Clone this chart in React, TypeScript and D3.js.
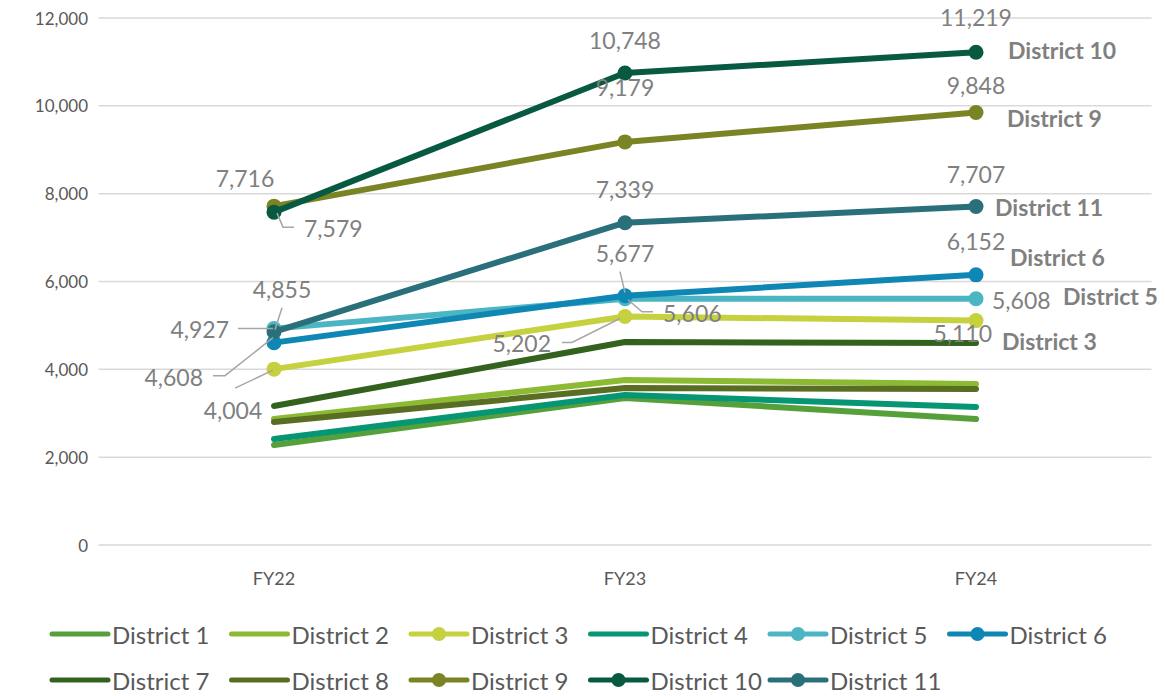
import React from 'react';
import * as d3 from 'd3';

const years = ['FY22', 'FY23', 'FY24'];
const districts = ['District 1', 'District 2', 'District 3', 'District 4', 'District 5', 'District 6',
    'District 7', 'District 8', 'District 9', 'District 10', 'District 11'];
const district1 = [2277, 3347, 2869];
const district2 = [2869, 3757, 3666];
const district3 = [4004, 5202, 5110];
const district4 = [2413, 3415, 3142];
const district5 = [4927, 5606, 5608];
const district6 = [4608, 5677, 6152];
const district7 = [3165, 4622, 4600];
const district8 = [2800, 3575, 3552];
const district9 = [7716, 9179, 9848];
const district10 = [7579, 10748, 11219];
const district11 = [4855, 7339, 7707];
const yTicks = [0, 2000, 4000, 6000, 8000, 10000, 12000];

const colors = ['#55a03a', '#8cba33', '#c5d13f', '#079673', '#4bb5c4', '#0e87b4',
    '#33621f', '#5a6e23', '#7b8424', '#075a41', '#2a707a'];
const values = [district1, district2, district3, district4, district5, district6,
    district7, district8, district9, district10, district11];
// which series carry markers and labels
const labelled = [false, false, true, false, true, true, false, false, true, true, true];

// label placement per series / year: [dx, dy, anchor, leader points]
type Lab = { dx: number; dy: number; a?: string; lead?: number[][] };
const labelPos: { [k: number]: Lab[] } = {
    2: [{ dx: -41, dy: 41, lead: [[-39, 19], [-1, 1]] },
        { dx: -74, dy: 26, a: 'end', lead: [[-63, 26], [-53, 26], [-5, 2]] },
        { dx: 16, dy: 12, a: 'end' }],
    4: [{ dx: -45, dy: 0, a: 'end', lead: [[-36, 0], [-1, 0]] },
        { dx: 38, dy: 14, a: 'start', lead: [[3, 1], [17, 13], [28, 13]] },
        { dx: 16, dy: 1, a: 'start' }],
    5: [{ dx: -71, dy: 34, a: 'end', lead: [[-61, 33], [-49, 33], [-1, -5]] },
        { dx: 0, dy: -43, lead: [[-5, -24], [0, -3]] },
        { dx: 0, dy: -34 }],
    8: [{ dx: -29, dy: -28 }, { dx: 0, dy: -55 }, { dx: 0, dy: -28 }],
    9: [{ dx: 30, dy: 16, a: 'start', lead: [[3, 1], [9, 15], [20, 15]] },
        { dx: 0, dy: -33 }, { dx: 0, dy: -35 }],
    10: [{ dx: 8, dy: -43, lead: [[8, -24], [1, -2]] }, { dx: 0, dy: -34 }, { dx: 0, dy: -33 }],
};
const namePos: { [k: number]: number[] } = {
    2: [26, 20], 4: [87, -3], 5: [34, -18], 8: [31, 5], 9: [32, -2], 10: [19, 0],
};

const W = 1165, H = 696;
const font = 'Lato, "Open Sans", sans-serif';

export default function App() {
    const x = d3.scalePoint<string>().domain(years).range([98.5, 1151.5]).padding(0.5);
    const y = d3.scaleLinear().domain([0, 12000]).range([545, 18]);
    const line = d3.line<number>().x((d, i) => x(years[i])!).y(d => y(d));
    const fmt = d3.format(',');

    const legendX = (i: number) => 52 + (i % 6) * 179.5;
    const legendY = (i: number) => (i < 6 ? 634 : 680);

    return (
        <svg width={W} height={H} style={{ position: 'absolute', left: 0, top: 0, fontFamily: font }}>
            <rect width={W} height={H} fill="#fff" />
            {yTicks.map(t => (
                <g key={t}>
                    <line x1={98.5} x2={1151.5} y1={y(t)} y2={y(t)} stroke="#d9d9d9" strokeWidth={1.5} />
                    <text x={88} y={y(t)} textAnchor="end" dominantBaseline="central" fontSize={17} fill="#595959">{fmt(t)}</text>
                </g>
            ))}
            {years.map(yr => (
                <text key={yr} x={x(yr)} y={578} textAnchor="middle" dominantBaseline="central" fontSize={18} fill="#595959">{yr}</text>
            ))}
            {values.map((v, s) => (
                <g key={s}>
                    <path d={line(v)!} fill="none" stroke={colors[s]} strokeWidth={6} strokeLinecap="round" strokeLinejoin="round" />
                    {labelled[s] && v.map((d, i) => (
                        <circle key={i} cx={x(years[i])} cy={y(d)} r={7.5} fill={colors[s]} />
                    ))}
                </g>
            ))}
            {values.map((v, s) => labelled[s] && (
                <g key={'l' + s}>
                    {v.map((d, i) => {
                        const p = labelPos[s][i];
                        const px = x(years[i])!, py = y(d);
                        return (
                            <g key={i}>
                                {p.lead && (
                                    <polyline points={p.lead.map(q => (px + q[0]) + ',' + (py + q[1])).join(' ')}
                                        fill="none" stroke="#a6a6a6" strokeWidth={1.5} />
                                )}
                                <text x={px + p.dx} y={py + p.dy} textAnchor={p.a || 'middle'} dominantBaseline="central"
                                    fontSize={23} fill="#808080">{fmt(d)}</text>
                            </g>
                        );
                    })}
                    <text x={x(years[2])! + namePos[s][0]} y={y(v[2]) + namePos[s][1]} dominantBaseline="central"
                        fontSize={23} fontWeight="bold" fill="#808080">{districts[s]}</text>
                </g>
            ))}
            {districts.map((name, i) => (
                <g key={name} transform={'translate(' + legendX(i) + ',' + legendY(i) + ')'}>
                    <line x1={0} x2={56} y1={0} y2={0} stroke={colors[i]} strokeWidth={5} strokeLinecap="round" />
                    {labelled[i] && <circle cx={28} cy={0} r={7} fill={colors[i]} />}
                    <text x={60} y={0} dominantBaseline="central" fontSize={24} fill="#595959">{name}</text>
                </g>
            ))}
        </svg>
    );
}
